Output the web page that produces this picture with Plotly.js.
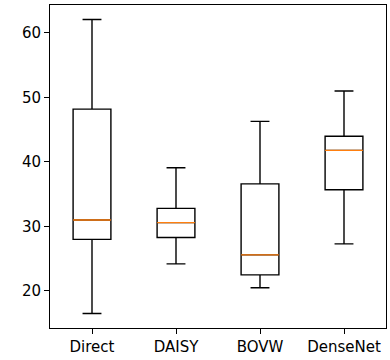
<!DOCTYPE html>
<html>
<head>
<meta charset="utf-8">
<script src="https://cdn.plot.ly/plotly-3.0.1.min.js"></script>
<style>html,body{margin:0;padding:0;background:#fff;}#chart{width:390px;height:360px;}</style>
</head>
<body>
<div id="chart"></div>
<script>
const categories = ["Direct", "DAISY", "BOVW", "DenseNet"];
const lowerWhisker = [16.5, 24.2, 20.5, 27.3];
const q1Values = [28.0, 28.3, 22.5, 35.7];
const medianValues = [31.0, 30.6, 25.6, 41.8];
const q3Values = [48.2, 32.8, 36.6, 44.0];
const upperWhisker = [62.1, 39.1, 46.3, 51.0];

const positions = categories.map((c, i) => i + 1);
const halfW = 0.225;

const medX = [], medY = [];
positions.forEach((p, i) => {
  medX.push(p - halfW, p + halfW, null);
  medY.push(medianValues[i], medianValues[i], null);
});

const data = [
  {
    type: 'box',
    x: positions,
    q1: q1Values,
    median: medianValues,
    q3: q3Values,
    lowerfence: lowerWhisker,
    upperfence: upperWhisker,
    width: 2 * halfW,
    whiskerwidth: 0.5,
    boxpoints: false,
    fillcolor: 'rgba(0,0,0,0)',
    line: {color: '#000', width: 1.4},
    hoverinfo: 'skip',
    showlegend: false
  },
  {
    type: 'scatter',
    mode: 'lines',
    x: medX,
    y: medY,
    line: {color: '#ff7f0e', width: 1.4},
    hoverinfo: 'skip',
    showlegend: false
  }
];

const layout = {
  width: 390,
  height: 360,
  margin: {l: 50, r: 4, t: 5, b: 32},
  paper_bgcolor: '#fff',
  plot_bgcolor: '#fff',
  font: {family: 'DejaVu Sans', size: 15, color: '#000'},
  showlegend: false,
  xaxis: {
    range: [0.5, 4.5],
    tickvals: positions,
    ticktext: categories,
    ticks: 'outside',
    ticklen: 5,
    tickwidth: 1,
    tickcolor: '#000',
    showline: true,
    linecolor: '#000',
    linewidth: 1,
    mirror: true,
    showgrid: false,
    zeroline: false
  },
  yaxis: {
    range: [14.26, 64.34],
    tickvals: [20, 30, 40, 50, 60],
    ticks: 'outside',
    ticklen: 5,
    tickwidth: 1,
    tickcolor: '#000',
    showline: true,
    linecolor: '#000',
    linewidth: 1,
    mirror: true,
    showgrid: false,
    zeroline: false
  }
};

Plotly.newPlot('chart', data, layout, {displayModeBar: false, staticPlot: true});
</script>
</body>
</html>
